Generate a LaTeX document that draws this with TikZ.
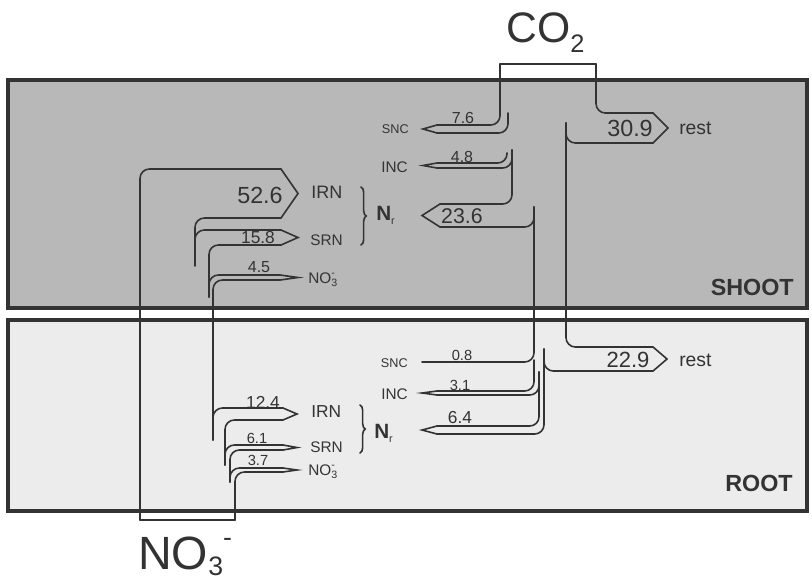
\documentclass[tikz,border=0pt]{standalone}
\usepackage{fontspec}
\setmainfont{Liberation Sans}
\usetikzlibrary{decorations.pathreplacing}
\definecolor{shootgray}{gray}{0.72}
\definecolor{rootgray}{gray}{0.925}
\definecolor{ink}{gray}{0.2}
\newcommand{\fs}[1]{\fontsize{#1}{#1}\selectfont}
\newcommand{\nitsmall}{NO\rlap{\raisebox{5.5pt}{\fs{8}-}}\raisebox{-2.5pt}{\fs{8}3}}
\newcommand{\nrlabel}{{\bfseries N}\raisebox{-3pt}{\fs{8}r}}
\tikzset{
  box/.style={draw=ink, line width=3.6pt, fill=#1},
  flow/.style={draw=ink, line width=1.2pt, rounded corners=7pt, line cap=round},
  head/.style={draw=ink, line width=1.2pt, line join=miter, line cap=round},
  txt/.style={text=ink, inner sep=0pt},
}
\begin{document}
\begin{tikzpicture}[x=0.75pt,y=-0.75pt]
\useasboundingbox (0,0) rectangle (812,582);
% compartments
\draw[box=shootgray] (8,80) rectangle (807,308);
\draw[box=rootgray] (8,320) rectangle (807,511);
\node[txt,anchor=east,font=\bfseries\fs{17.5}] (shoot) at (794,287) {SHOOT};
\node[txt,anchor=east,font=\bfseries\fs{17.5}] (root) at (793,483) {ROOT};
% inputs
\node[txt,anchor=base west,font=\fs{32}] (co2) at (506,42) {CO\raisebox{-7.5pt}{\fs{19}2}};
\node[txt,anchor=base west,font=\fs{35}] (no3) at (138,569) {NO\raisebox{-5pt}{\fs{20}3}\raisebox{17pt}{\fs{20}-}};
% carbon flows, shoot
\draw[flow] (437,125) -| (500,64);
\draw[head] (500,64) -- (596,64);
\draw[flow] (596,64) |- (653,113);
\draw[head] (437,125) -- (423,129) -- (437,133);
\draw[flow] (437,133) -| (508,113);
\draw[flow] (437,163) -| (507,153);
\draw[head] (437,163) -- (423,165.5) -- (437,168);
\draw[flow] (437,168) -| (512,150);
\draw[flow] (440,204) -| (512,150);
\draw[head] (440,204) -- (422,215.5) -- (440,227);
\draw[flow] (440,227) -| (534,207);
\draw[head] (653,113) -- (668,128) -- (653,143);
\draw[flow] (653,143) -| (566,123);
% carbon flows, root
\draw[flow] (422,362) -| (534,207);
\draw[flow] (566,123) |- (653,347);
\draw[head] (653,347) -- (667,359) -- (653,371);
\draw[flow] (653,371) -| (544,349);
\draw[flow] (437,434) -| (544,349);
\draw[flow] (437,391) -| (534,360);
\draw[head] (437,391) -- (422,393) -- (437,395);
\draw[flow] (437,395) -| (539,372);
\draw[flow] (437,426) -| (539,372);
\draw[head] (437,426) -- (422,430) -- (437,434);
% nitrate flows, shoot
\draw[flow] (140,520) |- (281,169);
\draw[head] (140,520) -- (235,520);
\draw[head] (281,169) -- (298,193.5) -- (281,218);
\draw[flow] (281,218) -| (195,266);
\draw[flow] (281,230) -| (195,262);
\draw[head] (281,230) -- (298,237.5) -- (281,245);
\draw[flow] (281,245) -| (209,297);
\draw[flow] (280,275) -| (209,297);
\draw[head] (280,275) -- (298,277.5) -- (280,280);
\draw[flow] (280,280) -| (213,440);
% nitrate flows, root
\draw[flow] (283,408) -| (213,440);
\draw[head] (283,408) -- (297,414) -- (283,420);
\draw[flow] (283,420) -| (225,465);
\draw[flow] (283,445) -| (225,465);
\draw[head] (283,445) -- (297,447.5) -- (283,450);
\draw[flow] (283,450) -| (230,482);
\draw[flow] (283,468) -| (230,482);
\draw[head] (283,468) -- (297,470) -- (283,472);
\draw[flow] (283,472) -| (235,520);
% labels, shoot
\node[txt,anchor=east,font=\fs{9.5}] (snc1) at (409,129) {SNC};
\node[txt,font=\fs{12}] (v76) at (463,118) {7.6};
\node[txt,anchor=east,font=\fs{11.5}] (inc1) at (408,167) {INC};
\node[txt,font=\fs{12}] (v48) at (462,157) {4.8};
\node[txt,anchor=west,font=\fs{15.5}] (nr1) at (376,215) {\nrlabel};
\node[txt,font=\fs{16}] (v236) at (462,216) {23.6};
\node[txt,font=\fs{17.5}] (v309) at (630,128) {30.9};
\node[txt,anchor=west,font=\fs{14.5}] (rest1) at (679,128) {rest};
\node[txt,font=\fs{17.5}] (v526) at (260,195) {52.6};
\node[txt,anchor=west,font=\fs{13.5}] (irn1) at (311,192) {IRN};
\node[txt,font=\fs{13}] (v158) at (258,238) {15.8};
\node[txt,anchor=west,font=\fs{11.5}] (srn1) at (310,240) {SRN};
\node[txt,font=\fs{12}] (v45) at (259,267) {4.5};
\node[txt,anchor=west,font=\fs{11.5}] (no31) at (308,280) {\nitsmall};
\draw[head,decorate,decoration={brace,amplitude=4pt}] (361,187) -- (361,245);
% labels, root
\node[txt,anchor=east,font=\fs{9.5}] (snc2) at (408,363) {SNC};
\node[txt,font=\fs{11}] (v08) at (462,355) {0.8};
\node[txt,anchor=east,font=\fs{11.5}] (inc2) at (408,394) {INC};
\node[txt,font=\fs{11}] (v31) at (460,385) {3.1};
\node[txt,font=\fs{13}] (v64) at (460,418) {6.4};
\node[txt,anchor=west,font=\fs{15.5}] (nr2) at (374,433) {\nrlabel};
\draw[head,decorate,decoration={brace,amplitude=4pt}] (360,405) -- (360,453);
\node[txt,anchor=west,font=\fs{13}] (irn2) at (311,412) {IRN};
\node[txt,font=\fs{13}] (v124) at (263,402) {12.4};
\node[txt,anchor=west,font=\fs{11.5}] (srn2) at (310,447) {SRN};
\node[txt,font=\fs{11}] (v61) at (257,438) {6.1};
\node[txt,anchor=west,font=\fs{11.5}] (no32) at (308,472) {\nitsmall};
\node[txt,font=\fs{11}] (v37) at (258,460) {3.7};
\node[txt,font=\fs{16.5}] (v229) at (628,360) {22.9};
\node[txt,anchor=west,font=\fs{14.5}] (rest2) at (679,360) {rest};
\end{tikzpicture}
\end{document}
